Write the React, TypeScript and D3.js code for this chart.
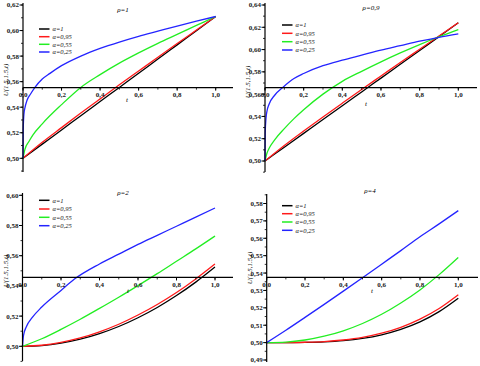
import React from "react";
import * as d3 from "d3";

// ---------- data ----------
const T11 = [0, 0.1, 0.2, 0.3, 0.4, 0.5, 0.6, 0.7, 0.8, 0.9, 1.0];
const LEGEND = ["α=1", "α=0,95", "α=0,55", "α=0,25"];
const COLORS = ["#000000", "#ff1a1a", "#22ee22", "#2424ff"];
const TITLES = ["ρ=1", "ρ=0,9", "ρ=2", "ρ=4"];
const X_TICKS = [0, 0.2, 0.4, 0.6, 0.8, 1.0];

// panel 1 (rho = 1)
const P1_BLACK = [0.5, 0.5111, 0.5222, 0.5333, 0.5444, 0.5555, 0.5666, 0.5777, 0.5888, 0.5999, 0.611];
const P1_RED = [0.5, 0.5125, 0.524, 0.5354, 0.5465, 0.5575, 0.5683, 0.5791, 0.5898, 0.6004, 0.611];
const P1_GREEN_T = [0, 0.01, 0.03, 0.05, 0.1, 0.2, 0.3, 0.4, 0.5, 0.6, 0.7, 0.8, 0.9, 1.0];
const P1_GREEN = [0.5, 0.507, 0.513, 0.518, 0.527, 0.542, 0.5555, 0.5655, 0.5745, 0.5825, 0.59, 0.597, 0.604, 0.611];
const P1_BLUE_T = [0, 0.001, 0.005, 0.01, 0.02, 0.04, 0.062, 0.1, 0.14, 0.2, 0.3, 0.4, 0.5, 0.6, 0.7, 0.8, 0.9, 1.0];
const P1_BLUE = [0.5, 0.522, 0.535, 0.5395, 0.545, 0.5505, 0.5555, 0.562, 0.5665, 0.5725, 0.58, 0.586, 0.591, 0.5955, 0.5995, 0.6035, 0.6073, 0.611];

// panel 2 (rho = 0.9)
const P2_BLACK = [0.5, 0.5124, 0.5248, 0.5372, 0.5496, 0.562, 0.5744, 0.5868, 0.5992, 0.6116, 0.624];
const P2_RED = [0.5, 0.5139, 0.5269, 0.5395, 0.5519, 0.5642, 0.5763, 0.5884, 0.6003, 0.6122, 0.624];
const P2_GREEN_T = [0, 0.01, 0.02, 0.05, 0.1, 0.15, 0.2, 0.3, 0.4, 0.5, 0.6, 0.7, 0.8, 0.9, 1.0];
const P2_GREEN = [0.5, 0.507, 0.511, 0.519, 0.529, 0.538, 0.546, 0.56, 0.5715, 0.5805, 0.589, 0.597, 0.6045, 0.6115, 0.618];
const P2_BLUE_T = [0, 0.001, 0.005, 0.01, 0.02, 0.05, 0.095, 0.15, 0.2, 0.3, 0.4, 0.5, 0.6, 0.7, 0.8, 0.9, 1.0];
const P2_BLUE = [0.5, 0.525, 0.538, 0.5445, 0.5505, 0.559, 0.5665, 0.574, 0.5785, 0.5855, 0.5905, 0.595, 0.5995, 0.6035, 0.6075, 0.611, 0.614];

// panel 3 (rho = 2)
const P3_BLACK = [0.5, 0.5005, 0.5021, 0.5047, 0.5084, 0.5131, 0.5189, 0.5257, 0.5336, 0.5425, 0.5525];
const P3_RED = [0.5, 0.5007, 0.5026, 0.5055, 0.5096, 0.5146, 0.5207, 0.5277, 0.5356, 0.5446, 0.5545];
const P3_GREEN = [0.5, 0.505, 0.5112, 0.5179, 0.5251, 0.5325, 0.5402, 0.5481, 0.5563, 0.5645, 0.573];
const P3_BLUE_T = [0, 0.005, 0.02, 0.05, 0.1, 0.2, 0.27, 0.4, 0.5, 0.6, 0.7, 0.8, 0.9, 1.0];
const P3_BLUE = [0.5, 0.507, 0.513, 0.519, 0.526, 0.537, 0.5445, 0.5545, 0.561, 0.5675, 0.5735, 0.5795, 0.5855, 0.5916];

// panel 4 (rho = 4)
const P4_BLACK = [0.5, 0.5, 0.5001, 0.5004, 0.5011, 0.5024, 0.5045, 0.5076, 0.5119, 0.5178, 0.5255];
const P4_RED = [0.5, 0.5, 0.5002, 0.5006, 0.5015, 0.503, 0.5054, 0.5088, 0.5135, 0.5196, 0.5275];
const P4_GREEN = [0.5, 0.5003, 0.5015, 0.5037, 0.5068, 0.511, 0.5163, 0.5228, 0.5303, 0.5391, 0.549];
const P4_BLUE = [0.5, 0.5071, 0.5145, 0.522, 0.5296, 0.5373, 0.5451, 0.5529, 0.5609, 0.5683, 0.5759];

const P1_Y_TICKS = [0.5, 0.52, 0.54, 0.56, 0.58, 0.6, 0.62];
const P2_Y_TICKS = [0.5, 0.52, 0.54, 0.56, 0.58, 0.6, 0.62, 0.64];
const P3_Y_TICKS = [0.5, 0.52, 0.54, 0.56, 0.58, 0.6];
const P4_Y_TICKS = [0.49, 0.5, 0.51, 0.52, 0.53, 0.54, 0.55, 0.56, 0.57, 0.58];

type Series = { t: number[]; v: number[] };
const zipS = (t: number[], v: number[]): Series => ({ t, v });

const PANELS = [
  {
    title: TITLES[0], series: [zipS(T11, P1_BLACK), zipS(T11, P1_RED), zipS(P1_GREEN_T, P1_GREEN), zipS(P1_BLUE_T, P1_BLUE)],
    yTicks: P1_Y_TICKS, yMinorStep: 0.01, yMinorFrom: 0.49, yDom: [0.5, 0.62], yRange: [158.3, 5],
    xRange: [23, 215.7], xEnd: 233, axisVal: 0.5553, yTop: 3, yBot: 172,
    titlePos: [123, 12], tPos: [127, 102], legendX: 39, legendY: [29, 36.7, 44.3, 52], yLabelY: 80,
  },
  {
    title: TITLES[1], series: [zipS(T11, P2_BLACK), zipS(T11, P2_RED), zipS(P2_GREEN_T, P2_GREEN), zipS(P2_BLUE_T, P2_BLUE)],
    yTicks: P2_Y_TICKS, yMinorStep: 0.01, yMinorFrom: 0.49, yDom: [0.5, 0.64], yRange: [161, 5],
    xRange: [265, 458.3], xEnd: 477, axisVal: 0.5658, yTop: 3, yBot: 172,
    titlePos: [371, 10], tPos: [366, 106], legendX: 282, legendY: [25, 33.3, 41.7, 50], yLabelY: 82,
  },
  {
    title: TITLES[2], series: [zipS(T11, P3_BLACK), zipS(T11, P3_RED), zipS(T11, P3_GREEN), zipS(P3_BLUE_T, P3_BLUE)],
    yTicks: P3_Y_TICKS, yMinorStep: 0.01, yMinorFrom: 0.49, yDom: [0.5, 0.6], yRange: [346.3, 195.3],
    xRange: [22.5, 215], xEnd: 233, axisVal: 0.5456, yTop: 193, yBot: 361,
    titlePos: [123, 195], tPos: [128, 293], legendX: 39, legendY: [200.3, 209, 217.3, 225.7], yLabelY: 271,
  },
  {
    title: TITLES[3], series: [zipS(T11, P4_BLACK), zipS(T11, P4_RED), zipS(T11, P4_GREEN), zipS(T11, P4_BLUE)],
    yTicks: P4_Y_TICKS, yMinorStep: 0.005, yMinorFrom: 0.49, yDom: [0.49, 0.58], yRange: [360, 203.5],
    xRange: [266.7, 458.3], xEnd: 478, axisVal: 0.5375, yTop: 194, yBot: 362,
    titlePos: [370, 193], tPos: [372, 293], legendX: 282, legendY: [205.7, 213.7, 222, 230.3], yLabelY: 268,
  },
];

const fmtComma = (f: string) => (v: number) => d3.format(f)(v).replace(".", ",");

function Panel({ p }: { p: (typeof PANELS)[number] }) {
  const x = d3.scaleLinear().domain([0, 1]).range(p.xRange);
  const y = d3.scaleLinear().domain(p.yDom).range(p.yRange);
  const x0 = x(0);
  const ay = y(p.axisVal);
  const line = d3
    .line<[number, number]>()
    .x((d) => x(d[0]))
    .y((d) => y(d[1]))
    .curve(d3.curveMonotoneX);
  const yFmt = fmtComma(".2f");
  const xFmt = fmtComma(".1f");
  const minorY: number[] = [];
  const yMax = y.invert(p.yTop);
  for (let v = p.yMinorFrom; v <= yMax + 1e-9; v += p.yMinorStep) minorY.push(+v.toFixed(4));
  const minorX: number[] = [];
  for (let v = 0; x(v) <= p.xEnd - 2; v += 0.1) minorX.push(+v.toFixed(2));
  const font = "'Liberation Serif', 'Times New Roman', serif";
  return (
    <g>
      {p.series.map((s, i) => (
        <path
          key={i}
          d={line(s.t.map((t, j) => [t, s.v[j]] as [number, number])) || ""}
          fill="none"
          stroke={COLORS[i]}
          strokeWidth={1.3}
        />
      ))}
      <line x1={x0} x2={x0} y1={p.yTop} y2={p.yBot} stroke="#000" strokeWidth={1.2} />
      {minorY.map((v, i) => (
        <line key={"ym" + i} x1={x0 - 2} x2={x0} y1={y(v)} y2={y(v)} stroke="#000" strokeWidth={0.8} />
      ))}
      {p.yTicks.map((v, i) => (
        <g key={"yt" + i}>
          <line x1={x0 - 3.5} x2={x0} y1={y(v)} y2={y(v)} stroke="#000" strokeWidth={1} />
          <text
            x={x0 - 4}
            y={y(v)}
            dy="0.35em"
            textAnchor="end"
            fontFamily={font}
            fontWeight="bold"
            fontSize={7}
            fill="#222"
          >
            {yFmt(v)}
          </text>
        </g>
      ))}
      <line x1={x0} x2={p.xEnd} y1={ay} y2={ay} stroke="#000" strokeWidth={1.2} />
      {minorX.map((v, i) => (
        <line key={"xm" + i} x1={x(v)} x2={x(v)} y1={ay} y2={ay + 2} stroke="#000" strokeWidth={0.8} />
      ))}
      {X_TICKS.map((v, i) => (
        <g key={"xt" + i}>
          <line x1={x(v)} x2={x(v)} y1={ay} y2={ay + 3} stroke="#000" strokeWidth={1} />
          <text
            x={x(v)}
            y={ay + 9.5}
            textAnchor="middle"
            fontFamily={font}
            fontWeight="bold"
            fontSize={7}
            fill="#222"
          >
            {xFmt(v)}
          </text>
        </g>
      ))}
      <text x={p.tPos[0]} y={p.tPos[1]} fontFamily={font} fontStyle="italic" fontSize={7} textAnchor="middle">
        t
      </text>
      <text
        transform={`translate(${x0 - 15},${p.yLabelY}) rotate(-90)`}
        fontFamily={font}
        fontStyle="italic"
        fontSize={7}
        textAnchor="middle"
      >
        U(1.5,1.5,t)
      </text>
      <text x={p.titlePos[0]} y={p.titlePos[1]} fontFamily={font} fontStyle="italic" fontSize={7} textAnchor="middle">
        {p.title}
      </text>
      {LEGEND.map((l, i) => (
        <g key={"lg" + i}>
          <line
            x1={p.legendX}
            x2={p.legendX + 10.5}
            y1={p.legendY[i]}
            y2={p.legendY[i]}
            stroke={COLORS[i]}
            strokeWidth={1.5}
          />
          <text
            x={p.legendX + 13.5}
            y={p.legendY[i]}
            dy="0.35em"
            fontFamily={font}
            fontStyle="italic"
            fontSize={6.5}
            fill="#111"
          >
            {l}
          </text>
        </g>
      ))}
    </g>
  );
}

export default function App() {
  return (
    <svg
      width={480}
      height={366}
      style={{ position: "absolute", left: 0, top: 0, background: "#fff" }}
    >
      <rect width={480} height={366} fill="#fff" />
      {PANELS.map((p, i) => (
        <Panel key={i} p={p} />
      ))}
    </svg>
  );
}
